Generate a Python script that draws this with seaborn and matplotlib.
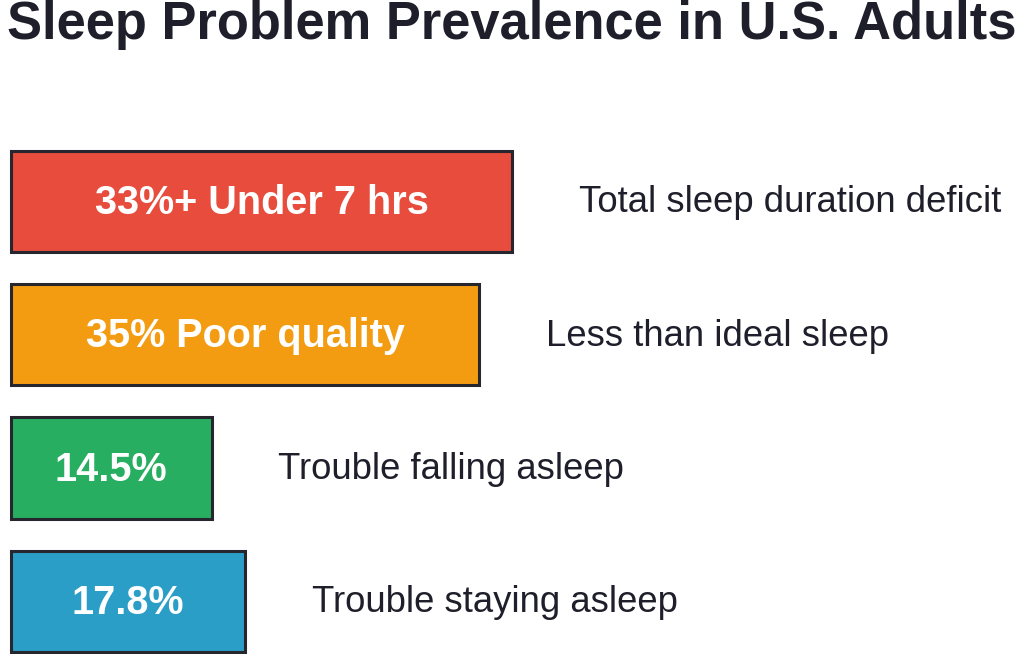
import matplotlib
matplotlib.use("Agg")
import matplotlib.pyplot as plt
import pandas as pd
import seaborn as sns

# bar lengths (same scale for all four bars)
categories = ["Under 7 hrs", "Poor quality", "Falling asleep", "Staying asleep"]
bar_lengths = [37.5, 35.0, 15.0, 17.5]
bar_labels = ["33%+ Under 7 hrs", "35% Poor quality", "14.5%", "17.8%"]
side_labels = [
    "Total sleep duration deficit",
    "Less than ideal sleep",
    "Trouble falling asleep",
    "Trouble staying asleep",
]
colors = ["#e74c3c", "#f39c12", "#27ae60", "#2a9ec6"]
title = "Sleep Problem Prevalence in U.S. Adults"

W, H, DPI = 1024, 654, 100
PX_PER_UNIT = 13.37
X0_PX = 11
ROW_PX = 133.3
ROW0_PX = 201.5
TEXT_LIFT = 2.5 / ROW_PX  # labels sit a touch above bar centre

sns.set_theme(style="white")
plt.rcParams["font.family"] = ["Liberation Sans", "DejaVu Sans"]

df = pd.DataFrame({"category": categories, "value": bar_lengths})

fig = plt.figure(figsize=(W / DPI, H / DPI), dpi=DPI)
ax = fig.add_axes([0, 0, 1, 1])

sns.barplot(
    data=df, x="value", y="category", hue="category", palette=colors,
    orient="h", width=0.76, saturation=1, edgecolor="#26262f",
    linewidth=2.2, legend=False, ax=ax,
)

ax.set_xlim(-X0_PX / PX_PER_UNIT, (W - X0_PX) / PX_PER_UNIT)
ax.set_ylim(3 + (H - (ROW0_PX + 3 * ROW_PX)) / ROW_PX, -ROW0_PX / ROW_PX)
ax.axis("off")

for i, (val, inner, side) in enumerate(zip(bar_lengths, bar_labels, side_labels)):
    ax.text(val / 2, i - TEXT_LIFT, inner, ha="center", va="center_baseline",
            color="white", fontsize=28.5, fontweight="bold")
    ax.text(val + 5, i - TEXT_LIFT, side, ha="left", va="center_baseline",
            color="#1f1f2b", fontsize=26.3)

fig.text(0.5, 1 - 39 / H, title, ha="center", va="baseline",
         fontsize=37.8, fontweight="bold", color="#1f1f2b")

fig.savefig("out.png", dpi=DPI)
